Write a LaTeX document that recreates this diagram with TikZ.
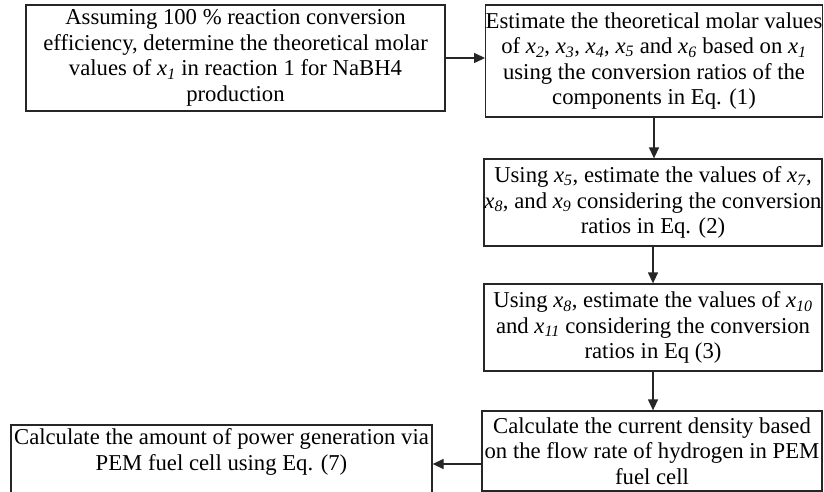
\documentclass[tikz,border=0pt]{standalone}
\usepackage{fontspec}
\setmainfont{Liberation Serif}
\usetikzlibrary{arrows.meta}
\newcommand\xv[1]{\textit{x}\textsubscript{\textit{#1}}}
\begin{document}
\begin{tikzpicture}[x=1pt,y=-1pt,
  box/.style={draw=black!85, line width=1.3pt, inner sep=0pt, align=center,
    font=\fontsize{22.7}{25.5}\selectfont},
  txt/.style={inner sep=0pt, align=center, font=\fontsize{22.7}{25.5}\selectfont},
  arr/.style={draw=black!85, line width=1.3pt, -{Triangle[length=11pt,width=10pt]}}]
\clip (0,0) rectangle (824,492);
\fill[white] (0,0) rectangle (824,492);
\node[box, minimum width=419, minimum height=106] (A) at (235.5,58)
  {Assuming 100 \% reaction conversion\\efficiency, determine the theoretical molar\\values of \xv{1} in reaction 1 for NaBH4\\production};
\node[box, minimum width=336, minimum height=112] (B) at (654,61)
  {Estimate the theoretical molar values\\of \xv{2}, \xv{3}, \xv{4}, \xv{5} and \xv{6} based on \xv{1}\\using the conversion ratios of the\\components in Eq. (1)};
\node[box, minimum width=338, minimum height=87] (C) at (653,202.5)
  {Using \xv{5}, estimate the values of \xv{7},\\\xv{8}, and \xv{9} considering the conversion\\ratios in Eq. (2)};
\node[box, minimum width=338, minimum height=87] (D) at (653,327.5)
  {Using \xv{8}, estimate the values of \xv{10}\\and \xv{11} considering the conversion\\ratios in Eq (3)};
\node[box, minimum width=340, minimum height=80] (E) at (652,451)
  {Calculate the current density based\\on the flow rate of hydrogen in PEM\\fuel cell};
\node[box, minimum width=421, minimum height=90] (F) at (221.5,470) {};
\node[txt] (Ft) at (221.5,452)
  {Calculate the amount of power generation via\\PEM fuel cell using Eq. (7)};
\draw[arr] (A.east) -- (A.east -| B.west);
\draw[arr] (B.south) -- (B.south |- C.north);
\draw[arr] (C.south) -- (D.north);
\draw[arr] (D.south) -- (D.south |- E.north);
\coordinate (e1) at ([yshift=-13pt]E.west);
\draw[arr] (e1) -- (e1 -| F.east);
\end{tikzpicture}
\end{document}
